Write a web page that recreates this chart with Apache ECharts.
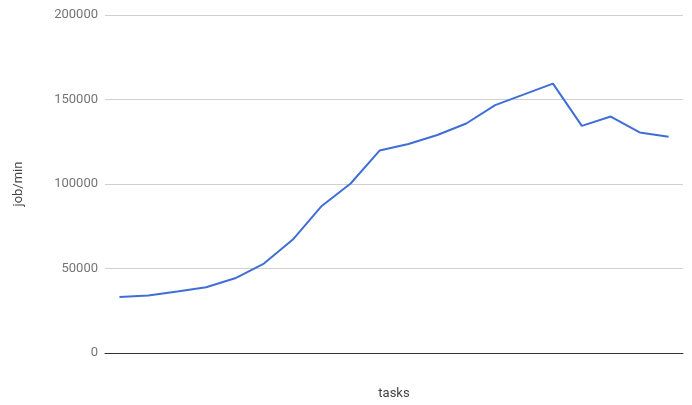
<!DOCTYPE html>
<html>
<head>
<meta charset="utf-8">
<script src="https://cdn.jsdelivr.net/npm/echarts@6/dist/echarts.min.js"></script>
<style>
  html, body { margin: 0; padding: 0; background: #fff; }
  #chart { width: 692px; height: 405px; }
</style>
</head>
<body>
<div id="chart"></div>
<script>
const tasks = ['1', '2', '3', '4', '5', '6', '7', '8', '9', '10',
  '11', '12', '13', '14', '15', '16', '17', '18', '19', '20']
const jobsPerMin = [33200, 34000, 36400, 38900, 44200, 52900, 67100, 87000, 100300, 119800,
  123700, 129000, 135800, 146700, 153000, 159400, 134400, 139900, 130500, 128000]

const chart = echarts.init(document.getElementById('chart'))

const option = {
  animation: false,
  grid: {
    left: 105,
    right: 9,
    top: 15,
    bottom: 49,
    containLabel: false,
  },
  xAxis: {
    type: 'category',
    data: tasks,
    boundaryGap: true,
    name: 'tasks',
    nameLocation: 'middle',
    nameGap: 34,
    nameTextStyle: { color: '#444', fontSize: 13, fontFamily: 'Roboto' },
    axisLine: { show: true, lineStyle: { color: '#333', width: 1 } },
    axisTick: { show: false },
    axisLabel: { show: false },
  },
  yAxis: {
    type: 'value',
    min: 0,
    max: 200000,
    interval: 50000,
    name: 'job/min',
    nameLocation: 'middle',
    nameGap: 80,
    nameTextStyle: { color: '#444', fontSize: 13, fontFamily: 'Roboto' },
    axisLine: { show: false },
    axisTick: { show: false },
    axisLabel: {
      color: '#757575',
      fontSize: 13,
      fontFamily: 'Roboto',
      margin: 7,
      formatter: (v) => String(v),
    },
    splitLine: { lineStyle: { color: '#d0d0d0', width: 1 } },
  },
  series: [
    {
      type: 'line',
      data: jobsPerMin,
      symbol: 'none',
      lineStyle: { color: '#3f6fd6', width: 2 },
      itemStyle: { color: '#3f6fd6' },
    },
  ],
}

chart.setOption(option)
</script>
</body>
</html>
